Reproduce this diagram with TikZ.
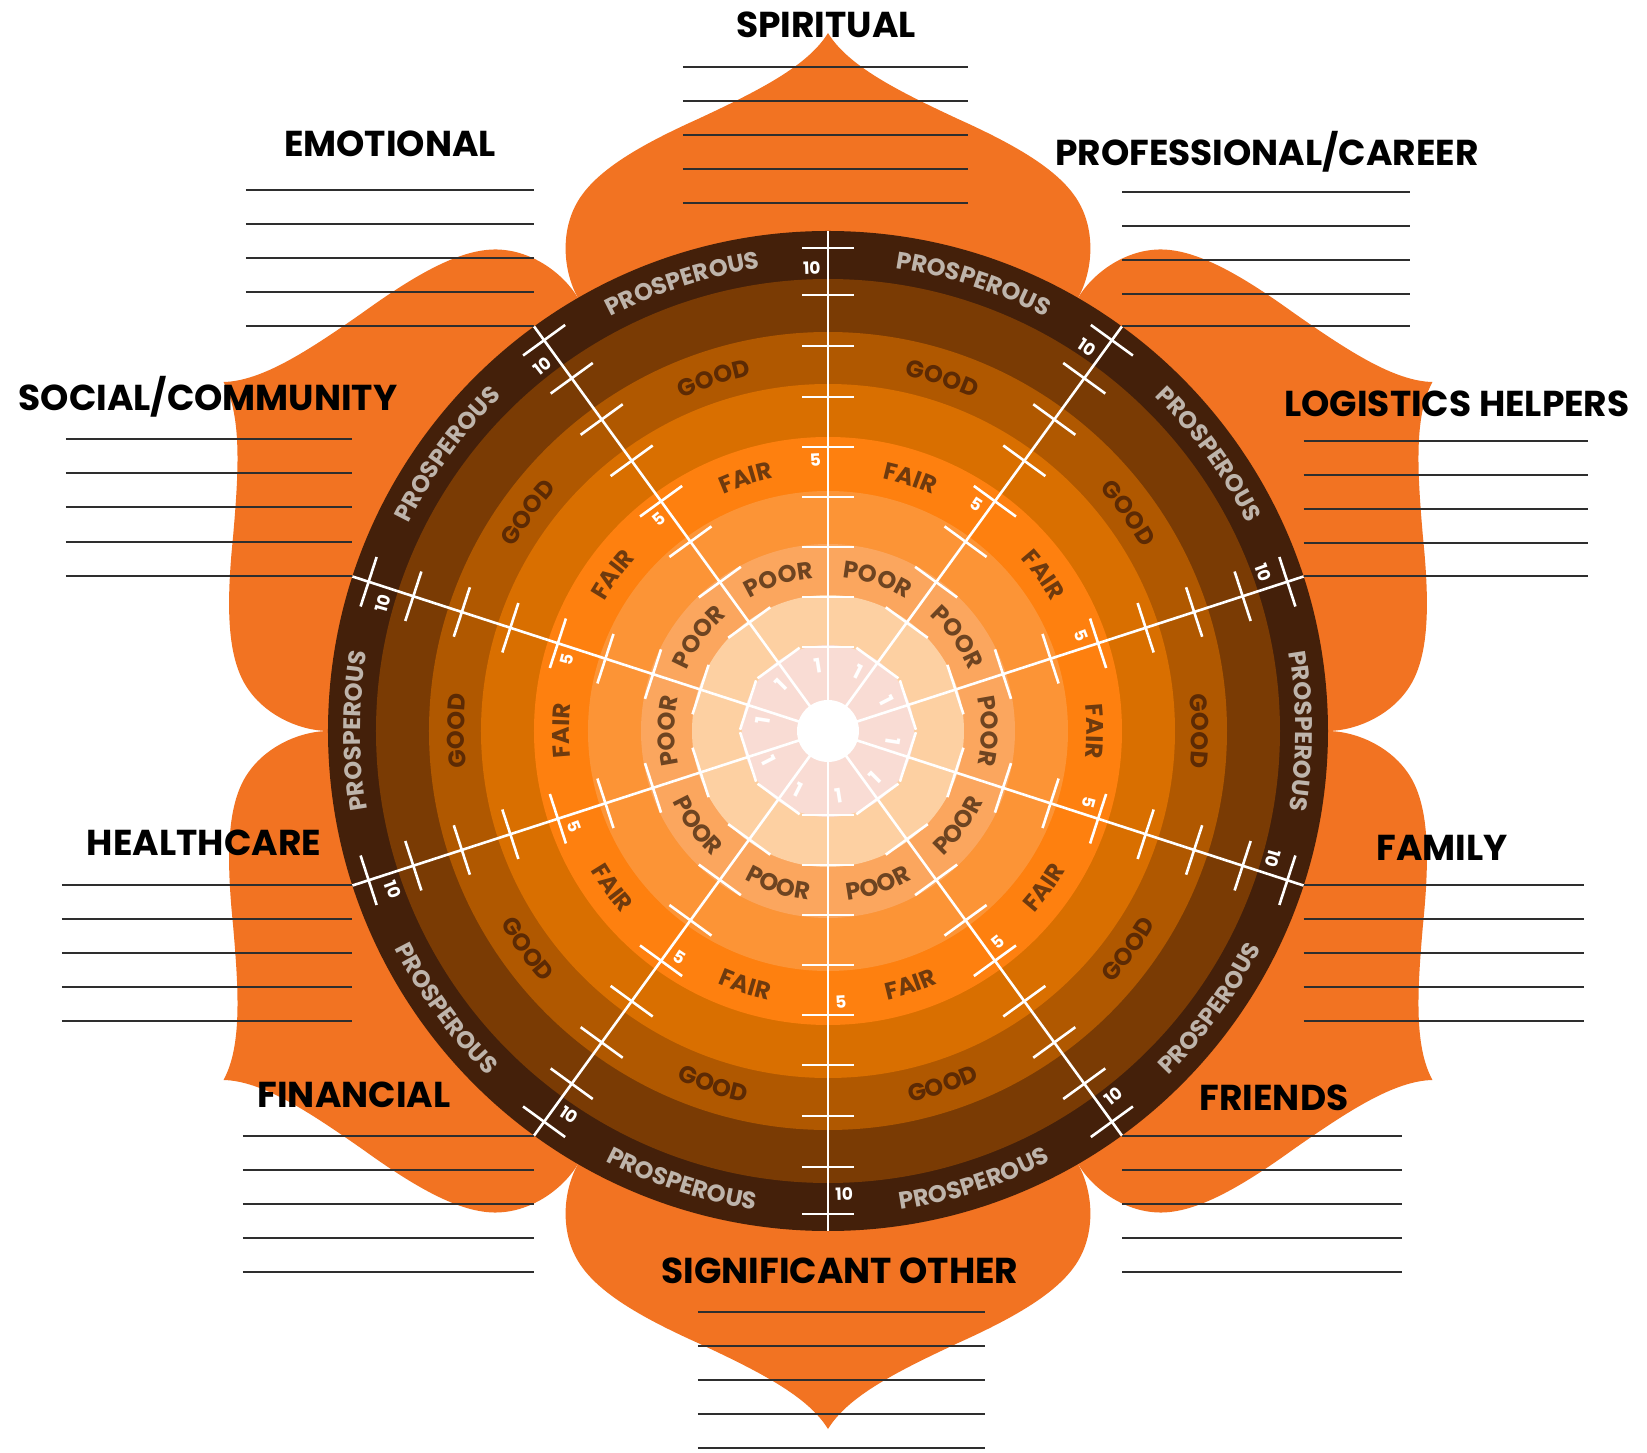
\documentclass[tikz,border=0pt]{standalone}
\usepackage{fontspec}
\setmainfont{Poppins}
\usetikzlibrary{decorations.text}
\definecolor{petal}{HTML}{F27322}
\definecolor{bA}{HTML}{44200A}
\definecolor{bB}{HTML}{7A3B04}
\definecolor{bC}{HTML}{B05800}
\definecolor{bD}{HTML}{D96F00}
\definecolor{bE}{HTML}{FE800F}
\definecolor{bF}{HTML}{FC9436}
\definecolor{bG}{HTML}{FBA65E}
\definecolor{bH}{HTML}{FDD0A2}
\definecolor{bI}{HTML}{F9DCD4}
\definecolor{prostxt}{HTML}{BEB4AB}
\definecolor{goodtxt}{HTML}{5C2A04}
\definecolor{fairtxt}{HTML}{6E3A0E}
\definecolor{poortxt}{HTML}{6E4421}
\definecolor{linecol}{HTML}{2E2E2E}
\tikzset{
  spokeline/.style={draw=white, line width=2.6pt},
  writeline/.style={draw=linecol, line width=2pt},
  titletext/.style={font=\bfseries\fontsize{36}{36}\selectfont, text=black, inner sep=0pt, anchor=base},
  numlabel/.style={font=\bfseries\fontsize{17}{17}\selectfont, text=white, inner sep=0pt},
  onelabel/.style={font=\bfseries\fontsize{20}{20}\selectfont, text=white, inner sep=0pt},
}
\newcommand\outlabel[4]{%
  \path[decorate, decoration={text along path, text color=#4,
    text={|\bfseries\fontsize{24}{24}\selectfont|#3}, text align=center}]
    (#1+18:#2) arc[start angle=#1+18, end angle=#1-18, radius=#2];}
\newcommand\inlabel[4]{%
  \path[decorate, decoration={text along path, text color=#4,
    text={|\bfseries\fontsize{24}{24}\selectfont|#3}, text align=center}]
    (#1-18:#2) arc[start angle=#1-18, end angle=#1+18, radius=#2];}
\begin{document}
\begin{tikzpicture}[x=1pt,y=1pt]
\useasboundingbox (-828,-722) rectangle (819,731);
\fill[white] (-828,-722) rectangle (819,731);
% petals
\foreach \a in {90,30,-30,-90,-150,150}{
  \fill[petal, rotate=\a-90] (250,433) .. controls (265,460) and (268,500) .. (250,530)
    .. controls (232,560) and (190,585) .. (130,612)
    .. controls (70,640) and (20,665) .. (0,698)
    .. controls (-20,665) and (-70,640) .. (-130,612)
    .. controls (-190,585) and (-232,560) .. (-250,530)
    .. controls (-268,500) and (-265,460) .. (-250,433) -- (0,0) -- cycle;
}
% writing lines and titles in image coordinates
\begin{scope}[shift={(-828,731)}, yscale=-1]
  \foreach \y in {67,101,135,169,203} \draw[writeline] (683,\y) -- (968,\y);
  \foreach \y in {190,224,258,292,326.5} \draw[writeline] (246,\y) -- (534,\y);
  \foreach \y in {192.5,226.5,260.5,294.5,326.5} \draw[writeline] (1122,\y) -- (1410,\y);
  \foreach \y in {441,475,509,543,576.5} \draw[writeline] (1303.5,\y) -- (1588,\y);
  \foreach \y in {439,473,507,542,576.5} \draw[writeline] (66,\y) -- (352.5,\y);
  \foreach \y in {885.5,919.5,953.5,987.5,1021.5} \draw[writeline] (62,\y) -- (352.5,\y);
  \foreach \y in {885.5,919,953,987,1021} \draw[writeline] (1303.5,\y) -- (1584,\y);
  \foreach \y in {1135.5,1170,1204,1238,1272} \draw[writeline] (243,\y) -- (534,\y);
  \foreach \y in {1135.5,1169.5,1203.5,1237.5,1271.5} \draw[writeline] (1122,\y) -- (1402,\y);
  \foreach \y in {1312,1346,1380,1414,1448} \draw[writeline] (698,\y) -- (985,\y);
  \node[titletext] (tspir) at (826,38) {SPIRITUAL};
  \node[titletext] (temo) at (390,157) {EMOTIONAL};
  \node[titletext] (tprof) at (1267,166) {PROFESSIONAL/CAREER};
  \node[titletext] (tlog) at (1457,417) {LOGISTICS HELPERS};
  \node[titletext] (tsoc) at (208,411) {SOCIAL/COMMUNITY};
  \node[titletext] (thealth) at (204,856) {HEALTHCARE};
  \node[titletext] (tfam) at (1442,861) {FAMILY};
  \node[titletext] (tfin) at (354,1107) {FINANCIAL};
  \node[titletext] (tfri) at (1274,1110) {FRIENDS};
  \node[titletext] (tsig) at (840,1283) {SIGNIFICANT OTHER};
\end{scope}
% bands
\fill[bA] (0,0) circle (500);
\fill[bB] (0,0) circle (452);
\fill[bC] (0,0) circle (399);
\fill[bD] (0,0) circle (347);
\fill[bE] (0,0) circle (294);
\fill[bF] (0,0) circle (240);
\fill[bG] (0,0) circle (187);
\fill[bH] (0,0) circle (136);
\fill[bI] (0,0) circle (86);
% band labels
\foreach \p in {0,36,72,108,144,180}{
  \outlabel{\p}{467.6}{PROSPEROUS}{prostxt}
  \outlabel{\p}{363.6}{GOOD}{goodtxt}
  \outlabel{\p}{258.6}{FAIR}{fairtxt}
  \outlabel{\p}{153.6}{POOR}{poortxt}
}
\foreach \p in {-36,-72,-108,-144}{
  \inlabel{\p}{484.4}{PROSPEROUS}{prostxt}
  \inlabel{\p}{380.4}{GOOD}{goodtxt}
  \inlabel{\p}{275.4}{FAIR}{fairtxt}
  \inlabel{\p}{170.4}{POOR}{poortxt}
}
% spokes and ticks
\foreach \s in {90,54,18,-18,-54,-90,-126,-162,162,126}{
  \draw[spokeline] (0,0) -- (\s:500);
  \foreach \r in {84,134,184,234,284,334,385,436,483}
    \draw[spokeline, rotate=\s] (\r,-26) -- (\r,26);
}
\fill[white] (0,0) circle (31);
% number labels
\foreach \s/\o in {90/270,54/270,18/270,-18/270,-54/90,-90/90,-126/90,-162/90,162/270,126/270}{
  \node[numlabel, rotate=\s+2+\o] (ten\s) at (\s+2:463) {10};
  \node[numlabel, rotate=\s+2.7+\o] (five\s) at (\s+2.7:271) {5};
  \node[onelabel, rotate=\s+9+\o] (one\s) at (\s+9:66) {1};
}
\end{tikzpicture}
\end{document}
